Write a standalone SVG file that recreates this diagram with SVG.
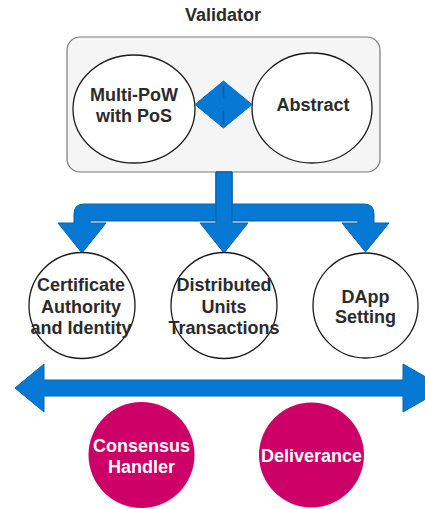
<svg xmlns="http://www.w3.org/2000/svg" width="425" height="509" viewBox="0 0 425 509">
<style>
text{font-family:"Liberation Sans",Arial,sans-serif;font-weight:bold;font-size:18px;text-anchor:middle;fill:#2b2b2b}
.w{fill:#ffffff}
.node{fill:#ffffff;stroke:#1a1a1a;stroke-width:1.3}
.pink{fill:#cc0066;stroke:none}
.flex{fill:#0579d4;stroke:#0a62ad;stroke-width:1}
</style>
<rect width="425" height="509" fill="#ffffff"/>
<g id="validator">
<text x="223" y="21">Validator</text>
<rect x="67" y="37" width="313" height="135" rx="13" ry="13" fill="#f5f5f5" stroke="#7a7a7a" stroke-width="1.2"/>
</g>
<g id="multipow">
<ellipse class="node" cx="134" cy="109" rx="61" ry="54"/>
<text x="134" y="101">Multi-PoW</text>
<text x="134" y="122">with PoS</text>
</g>
<g id="abstract">
<ellipse class="node" cx="312" cy="108" rx="60" ry="55"/>
<text x="313" y="111">Abstract</text>
</g>
<g id="link">
<polygon points="195,104.5 223.5,81 252,104.5 223.5,128" fill="#0579d4" stroke="#0a6ab8" stroke-width="1"/>
<line x1="223.5" y1="86" x2="223.5" y2="98" stroke="#0a5598" stroke-width="1.5"/>
<line x1="223.5" y1="111" x2="223.5" y2="124" stroke="#0a5598" stroke-width="1.5"/>
</g>
<g id="connectors">
<path class="flex" d="M216,172 V204 H84 Q74,204 74,214 V223 H58 L82,253 L106,223 H90 V221 H226 Q232,221 232,215 V172 Z"/>
<path class="flex" d="M232,172 V204 H364 Q374,204 374,214 V223 H389 L365.5,252 L342,223 H358 V221 H222 Q216,221 216,215 V172 Z"/>
<path class="flex" d="M216,172 V223 H200 L224,253 L248,223 H232 V172 Z"/>
<path class="flex" d="M15,388 L44,364 V380 H403 V364 L445,388 L403,412 V396 H44 V412 Z"/>
</g>
<g id="certificate">
<circle class="node" cx="82" cy="305.5" r="53"/>
<text x="81" y="291">Certificate</text>
<text x="81" y="313">Authority</text>
<text x="81" y="334">and Identity</text>
</g>
<g id="distributed">
<circle class="node" cx="224" cy="305.5" r="53"/>
<text x="224" y="291">Distributed</text>
<text x="224" y="313">Units</text>
<text x="224" y="334">Transactions</text>
</g>
<g id="dapp">
<circle class="node" cx="365.5" cy="305.5" r="52.5"/>
<text x="365.5" y="303">DApp</text>
<text x="365.5" y="323">Setting</text>
</g>
<g id="consensus">
<circle class="pink" cx="141.5" cy="455" r="53"/>
<text class="w" x="141.5" y="452">Consensus</text>
<text class="w" x="141.5" y="473">Handler</text>
</g>
<g id="deliverance">
<circle class="pink" cx="311.5" cy="455" r="52.5"/>
<text class="w" x="311.5" y="462">Deliverance</text>
</g>
</svg>
